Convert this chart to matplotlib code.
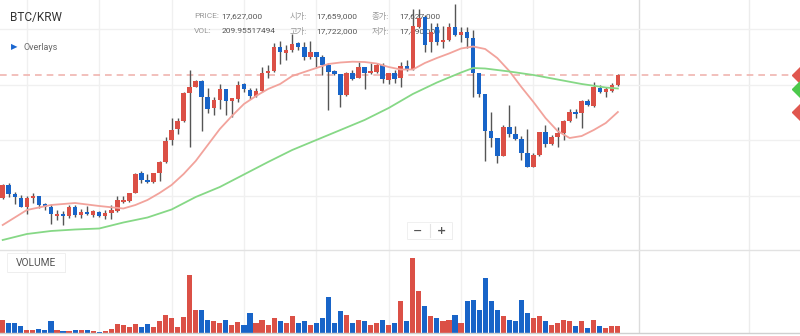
"""
BTC/KRW 캔들 차트
상단: 캔들 + 이동평균(단기/장기), 하단: 거래량 패널
"""

import matplotlib

matplotlib.use("Agg")  # 서버 렌더링
import matplotlib.pyplot as plt
from matplotlib.lines import Line2D
from matplotlib.patches import FancyBboxPatch

# 숫자/라틴은 Roboto, 한글은 Noto Sans CJK KR 로 회귀
plt.rcParams["font.family"] = ["Roboto", "Noto Sans CJK KR", "DejaVu Sans"]
plt.rcParams["axes.unicode_minus"] = False

# ── 데이터 (가격: 천원, 거래량: BTC) ──
opens = [16403, 16530, 16440, 16403, 16313, 16403, 16423, 16340, 16313, 16220,
         16240, 16220, 16313, 16227, 16263, 16227, 16263, 16220, 16247, 16270,
         16357, 16373, 16453, 16647, 16580, 16560, 16647, 16760, 16980, 17090,
         17170, 17447, 17513, 17573, 17413, 17300, 17380, 17487, 17373, 17387,
         17535, 17480, 17423, 17470, 17650, 17670, 17907, 17853, 17880, 17947,
         17907, 17807, 17863, 17807, 17730, 17670, 17640, 17430, 17653, 17603,
         17707, 17653, 17663, 17730, 17580, 17647, 17597, 17723, 17690, 18113,
         18210, 17963, 18110, 17957, 17985, 18107, 18027, 18063, 17997, 17647,
         17440, 17070, 16997, 16820, 17107, 17037, 16987, 16853, 16713, 16830,
         17057, 16940, 17007, 17053, 17170, 17263, 17247, 17370, 17320, 17503,
         17463, 17470, 17527]
highs = [16540, 16553, 16463, 16430, 16423, 16447, 16423, 16347, 16340, 16280,
         16273, 16330, 16330, 16287, 16320, 16283, 16273, 16280, 16330, 16423,
         16423, 16453, 16647, 16673, 16640, 16653, 16770, 17007, 17203, 17203,
         17463, 17680, 17580, 17580, 17497, 17413, 17540, 17487, 17405, 17575,
         17547, 17497, 17505, 17710, 17730, 17953, 17973, 17930, 18040, 17963,
         17963, 17973, 17863, 17830, 17747, 17680, 17640, 17663, 17680, 17763,
         17713, 17753, 17747, 17753, 17647, 17680, 17763, 17780, 18295, 18290,
         18230, 18150, 18153, 18120, 18147, 18340, 18110, 18113, 18080, 17647,
         17440, 17263, 16997, 17130, 17330, 17120, 17020, 17087, 16847, 17063,
         17130, 17030, 17107, 17180, 17287, 17287, 17380, 17387, 17563, 17530,
         17513, 17547, 17640]
lows = [16390, 16413, 16337, 16310, 16240, 16353, 16297, 16280, 16140, 16180,
        16130, 16197, 16213, 16203, 16227, 16213, 16213, 16190, 16190, 16263,
        16347, 16363, 16447, 16547, 16553, 16553, 16570, 16747, 16930, 17037,
        17163, 16913, 17507, 17070, 17247, 17230, 17290, 17230, 17210, 17360,
        17463, 17390, 17415, 17463, 17600, 17663, 17740, 17780, 17863, 17880,
        17780, 17787, 17713, 17630, 17280, 17630, 17307, 17423, 17580, 17597,
        17487, 17640, 17655, 17547, 17540, 17553, 17513, 17673, 17680, 18100,
        17863, 17863, 17930, 17900, 17970, 18020, 17960, 17900, 17413, 17413,
        16770, 16913, 16747, 16820, 17013, 16980, 16780, 16713, 16713, 16823,
        16913, 16930, 16913, 16980, 17163, 17197, 17097, 17320, 17313, 17447,
        17413, 17463, 17520]
closes = [16530, 16440, 16410, 16313, 16397, 16423, 16330, 16313, 16237, 16240,
          16220, 16313, 16227, 16263, 16240, 16267, 16220, 16247, 16280, 16380,
          16380, 16447, 16640, 16580, 16560, 16647, 16763, 16973, 17080, 17170,
          17447, 17513, 17573, 17413, 17290, 17380, 17487, 17373, 17397, 17530,
          17487, 17425, 17470, 17650, 17670, 17907, 17857, 17880, 17940, 17907,
          17807, 17857, 17807, 17730, 17663, 17640, 17430, 17647, 17590, 17707,
          17653, 17670, 17730, 17587, 17647, 17590, 17723, 17690, 18120, 18200,
          17930, 18063, 17963, 17980, 18107, 18030, 18057, 18003, 17647, 17440,
          17070, 16997, 16820, 17107, 17037, 16987, 16853, 16713, 16830, 17057,
          16940, 17013, 17053, 17170, 17263, 17240, 17370, 17330, 17513, 17463,
          17487, 17530, 17627]
volumes = [400, 300, 300, 220, 100, 80, 130, 100, 370, 100,
           50, 50, 100, 80, 100, 70, 30, 70, 130, 270,
           230, 170, 270, 170, 270, 180, 370, 530, 450, 170,
           470, 1730, 680, 680, 400, 350, 300, 380, 250, 330,
           250, 600, 300, 400, 250, 450, 350, 300, 500, 300,
           350, 250, 300, 450, 1080, 300, 650, 550, 300, 400,
           350, 250, 300, 400, 250, 300, 950, 350, 2250, 1250,
           800, 500, 450, 350, 400, 550, 300, 950, 1000, 700,
           1650, 950, 700, 500, 400, 350, 1000, 600, 450, 500,
           350, 250, 300, 400, 350, 200, 350, 150, 400, 200,
           150, 200, 210]

# 이동평균선 (캔들 인덱스 기준 판독값)
ma_short_idx = [0, 4, 8, 12, 16, 20, 22, 24, 26, 28, 30, 32, 34, 36, 38, 40,
                42, 44, 46, 48, 50, 52, 54, 56, 58, 60, 62, 64, 66, 68, 70, 72,
                74, 76, 78, 80, 82, 84, 86, 88, 90, 92, 94, 96, 98, 100, 102]
ma_short = [16130, 16280, 16330, 16350, 16320, 16295, 16330, 16380, 16450,
            16530, 16640, 16770, 16930, 17090, 17220, 17340, 17420, 17490,
            17540, 17620, 17660, 17700, 17740, 17755, 17763, 17760, 17745,
            17710, 17685, 17685, 17750, 17800, 17845, 17895, 17915, 17890,
            17800, 17670, 17510, 17360, 17200, 17070, 17000, 17020, 17080,
            17150, 17260]
ma_long_idx = [0, 4, 8, 12, 16, 20, 24, 28, 32, 36, 40, 44, 48, 52, 56, 60,
               64, 68, 72, 76, 78, 80, 84, 88, 92, 96, 100, 102]
ma_long = [15980, 16040, 16070, 16085, 16095, 16155, 16205, 16285, 16410,
           16510, 16635, 16760, 16880, 16980, 17080, 17180, 17300, 17440,
           17555, 17655, 17700, 17695, 17665, 17630, 17585, 17540, 17505,
           17495]

last_price = closes[-1]

header_rows = [
    [("PRICE:", "17,627,000"), ("시가:", "17,659,000"), ("종가:", "17,627,000")],
    [("VOL:", "209.95517494"), ("고가:", "17,722,000"), ("저가:", "17,490,000")],
]

# ── 스타일 ──
RED = "#db5046"
BLUE = "#1864c8"
WICK = "#555555"
GRID = "#f0f0f0"
W, H = 800, 336

grid_x = [4, 16, 28, 40, 52, 64, 76, 88]
grid_y = [18090, 17533, 16977, 16420]


def fxy(x, y):
    """픽셀 좌표 → figure 좌표"""
    return x / W, 1 - y / H


fig = plt.figure(figsize=(W / 100, H / 100), dpi=100)
fig.patch.set_facecolor("white")

ax = fig.add_axes([0, 86 / H, 1, 250 / H])
ax_vol = fig.add_axes([0, 3 / H, 1, 83 / H])

for a in (ax, ax_vol):
    a.set_xlim(-0.448, 132.2)
    a.set_xticks([])
    a.set_yticks([])
    a.set_facecolor("none")
    for s in a.spines.values():
        s.set_visible(False)
    for gx in grid_x:
        a.axvline(gx, color=GRID, lw=1, zorder=0)
    a.axvline(105.5, color="#dcdcdc", lw=1, zorder=0)
    a.axvline(123.8, color="#ececec", lw=1, zorder=0)

ax.set_ylim(15880, 18380)
for gy in grid_y:
    ax.axhline(gy, color=GRID, lw=1, zorder=0)

# ── 캔들 ──
idx = list(range(len(opens)))
colors = [RED if c >= o else BLUE for o, c in zip(opens, closes)]
ax.vlines(idx, lows, highs, color=WICK, lw=1, zorder=2)
bottoms = [min(o, c) for o, c in zip(opens, closes)]
heights = [max(abs(c - o), 9) for o, c in zip(opens, closes)]
ax.bar(idx, heights, bottom=bottoms, width=0.75, color=colors, lw=0, zorder=3)

# ── 이동평균 ──
ax.plot(ma_short_idx, ma_short, color="#f2a39c", lw=1.3, zorder=4)
ax.plot(ma_long_idx, ma_long, color="#86d886", lw=1.3, zorder=4)

# 현재가 점선
ax.axhline(last_price, xmin=0, xmax=795 / W, color="#f0b5b0", lw=1.2,
           dashes=(4, 3), zorder=1)

# 우측 끝 마커 (현재가 / 장기 / 단기)
ax.plot([132.2] * 3, [last_price, ma_long[-1], ma_short[-1]], ls="none",
        marker="D", markersize=8, clip_on=False, zorder=5,
        markerfacecolor="none", markeredgecolor="none")
for val, col in [(last_price, "#e0574f"), (ma_long[-1], "#4cc94c"),
                 (ma_short[-1], "#e0574f")]:
    ax.plot([132.2], [val], ls="none", marker="D", markersize=8,
            color=col, clip_on=True, zorder=5)

# ── 거래량 ──
ax_vol.set_ylim(0, 83 * 30)
ax_vol.bar(idx, volumes, width=0.85, color=colors, lw=0, zorder=3)

# 패널 경계선
fig.add_artist(Line2D([0, 1], [86 / H, 86 / H], color="#e2e2e2", lw=1))
fig.add_artist(Line2D([0, 1], [3.5 / H, 3.5 / H], color="#d0d0d0", lw=1))

# ── 텍스트 ──
ax.text(*fxy(10, 17), "BTC/KRW", transform=fig.transFigure, fontsize=8.5,
        color="#333333", va="center", ha="left", zorder=1)
ax.text(*fxy(11, 47), "▶", transform=fig.transFigure, fontsize=6,
        color="#1a66d0", va="center", ha="left", family="DejaVu Sans", zorder=1)
ax.text(*fxy(24, 47), "Overlays", transform=fig.transFigure, fontsize=6.5,
        color="#666666", va="center", ha="left", zorder=1)

col_x = [(194, 221.7), (289.3, 316.7), (371.7, 399)]
for row_y, row in zip([15.7, 30.7], header_rows):
    for (lx, vx), (label, value) in zip(col_x, row):
        ax.text(*fxy(lx, row_y), label, transform=fig.transFigure,
                fontsize=6, color="#999999", va="center", ha="left", zorder=1)
        ax.text(*fxy(vx, row_y), value, transform=fig.transFigure,
                fontsize=6, color="#555555", va="center", ha="left", zorder=1)

# VOLUME 라벨 박스
x0, y0 = fxy(7, 272)
x1, y1 = fxy(65, 253)
fig.patches.append(FancyBboxPatch((x0 + 1 / W, y0 - 1 / H), x1 - x0, y1 - y0,
                                  boxstyle="square,pad=0", fc="#e8e8e8",
                                  ec="none", transform=fig.transFigure))
fig.patches.append(FancyBboxPatch((x0, y0), x1 - x0, y1 - y0,
                                  boxstyle="square,pad=0", fc="white",
                                  ec="#eeeeee", lw=0.6,
                                  transform=fig.transFigure))
fig.text(*fxy(36, 262.5), "VOLUME", fontsize=7.3, color="#555555",
         ha="center", va="center")

# 줌 컨트롤 (− +)
x0, y0 = fxy(407, 239)
x1, y1 = fxy(452, 222)
fig.patches.append(FancyBboxPatch((x0 + 1 / W, y0 - 1 / H), x1 - x0, y1 - y0,
                                  boxstyle="square,pad=0", fc="#e6e6e6",
                                  ec="none", transform=fig.transFigure))
fig.patches.append(FancyBboxPatch((x0, y0), x1 - x0, y1 - y0,
                                  boxstyle="square,pad=0", fc="white",
                                  ec="#eeeeee", lw=0.6,
                                  transform=fig.transFigure))
fig.add_artist(Line2D([fxy(430, 0)[0]] * 2, [fxy(0, 224)[1], fxy(0, 237)[1]],
                      color="#e4e4e4", lw=0.8))
fig.text(*fxy(418, 230.5), "−", fontsize=8, color="#555555", ha="center",
         va="center", family="DejaVu Sans", fontweight="bold")
fig.text(*fxy(441, 230.5), "+", fontsize=8, color="#555555", ha="center",
         va="center", family="DejaVu Sans", fontweight="bold")

fig.savefig("out.png", dpi=100, facecolor="white")
plt.close(fig)
